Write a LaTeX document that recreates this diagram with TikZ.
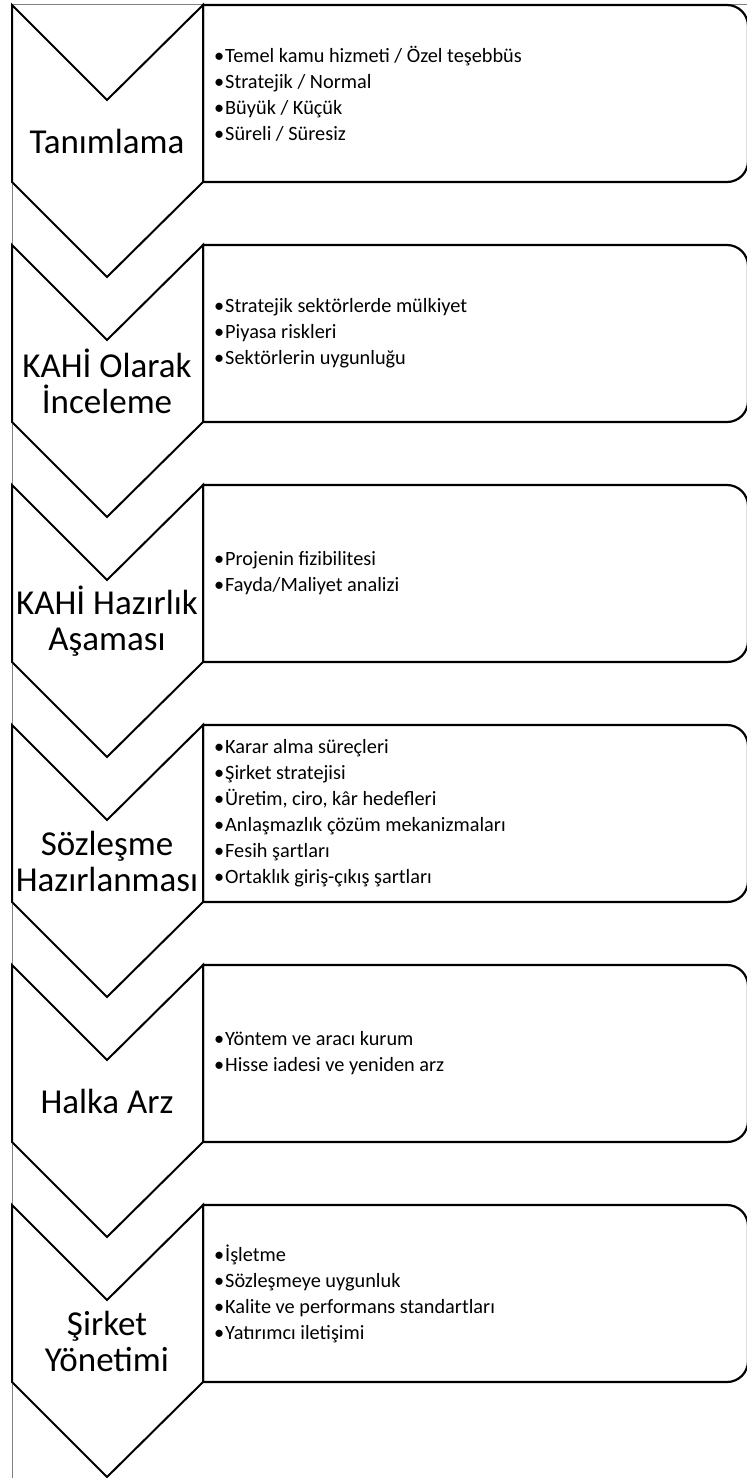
\documentclass[tikz,border=0pt]{standalone}
\usepackage{fontspec}
\setmainfont{Carlito}
\usepackage{tikz}

\tikzset{
  chevron/.style={line width=2pt, line join=miter, fill=white},
  infobox/.style={line width=2.2pt, fill=white},
  steplabel/.style={align=center, inner sep=0pt, font=\fontsize{35}{36}\selectfont},
  itemlist/.style={anchor=west, align=left, inner sep=0pt, font=\fontsize{20.3}{26}\selectfont},
  frameline/.style={gray, line width=0.8pt},
}
\newcommand{\itm}{\llap{\textbullet\hspace{1pt}}}

\begin{document}
\begin{tikzpicture}[x=1pt, y=-1pt]
        \useasboundingbox (0,0) rectangle (747,1478);
        \draw [frameline] (12,1478) -- (12,4) -- (747,4);                                             %

        \draw [infobox] (203,5) [rounded corners=21] -- (748,5) -- (748,182) [sharp corners] -- (203,182) -- cycle;       %box 1
        \draw [chevron] (12,5) -- (107,100) -- (203,5) -- (203,182) -- (107,277) -- (12,182) -- cycle;                      %step 1
        \node [steplabel] (lbl1) at (107,141) {Tanımlama};                                                                  %
        \node [itemlist]  (txt1) at (225,93.5) {\itm Temel kamu hizmeti / Özel teşebbüs\\ \itm Stratejik / Normal\\ \itm Büyük / Küçük\\ \itm Süreli / Süresiz};

        \draw [infobox] (203,245) [rounded corners=21] -- (748,245) -- (748,422) [sharp corners] -- (203,422) -- cycle;   %box 2
        \draw [chevron] (12,245) -- (107,340) -- (203,245) -- (203,422) -- (107,517) -- (12,422) -- cycle;                  %step 2
        \node [steplabel] (lbl2) at (107,381) {KAHİ Olarak\\İnceleme};                                                      %
        \node [itemlist]  (txt2) at (225,333.5) {\itm Stratejik sektörlerde mülkiyet\\ \itm Piyasa riskleri\\ \itm Sektörlerin uygunluğu};

        \draw [infobox] (203,485) [rounded corners=21] -- (748,485) -- (748,662) [sharp corners] -- (203,662) -- cycle;   %box 3
        \draw [chevron] (12,485) -- (107,580) -- (203,485) -- (203,662) -- (107,757) -- (12,662) -- cycle;                  %step 3
        \node [steplabel] (lbl3) at (107,621) {KAHİ Hazırlık\\Aşaması};                                                     %
        \node [itemlist]  (txt3) at (225,573.5) {\itm Projenin fizibilitesi\\ \itm Fayda/Maliyet analizi};

        \draw [infobox] (203,725) [rounded corners=21] -- (748,725) -- (748,902) [sharp corners] -- (203,902) -- cycle;   %box 4
        \draw [chevron] (12,725) -- (107,820) -- (203,725) -- (203,902) -- (107,997) -- (12,902) -- cycle;                  %step 4
        \node [steplabel] (lbl4) at (107,861) {Sözleşme\\Hazırlanması};                                                     %
        \node [itemlist]  (txt4) at (225,813.5) {\itm Karar alma süreçleri\\ \itm Şirket stratejisi\\ \itm Üretim, ciro, kâr hedefleri\\ \itm Anlaşmazlık çözüm mekanizmaları\\ \itm Fesih şartları\\ \itm Ortaklık giriş-çıkış şartları};

        \draw [infobox] (203,965) [rounded corners=21] -- (748,965) -- (748,1142) [sharp corners] -- (203,1142) -- cycle; %box 5
        \draw [chevron] (12,965) -- (107,1060) -- (203,965) -- (203,1142) -- (107,1237) -- (12,1142) -- cycle;              %step 5
        \node [steplabel] (lbl5) at (107,1101) {Halka Arz};                                                                 %
        \node [itemlist]  (txt5) at (225,1053.5) {\itm Yöntem ve aracı kurum\\ \itm Hisse iadesi ve yeniden arz};

        \draw [infobox] (203,1205) [rounded corners=21] -- (748,1205) -- (748,1382) [sharp corners] -- (203,1382) -- cycle; %box 6
        \draw [chevron] (12,1205) -- (107,1300) -- (203,1205) -- (203,1382) -- (107,1477) -- (12,1382) -- cycle;              %step 6
        \node [steplabel] (lbl6) at (107,1341) {Şirket\\Yönetimi};                                                            %
        \node [itemlist]  (txt6) at (225,1293.5) {\itm İşletme\\ \itm Sözleşmeye uygunluk\\ \itm Kalite ve performans standartları\\ \itm Yatırımcı iletişimi};
\end{tikzpicture}
\end{document}
